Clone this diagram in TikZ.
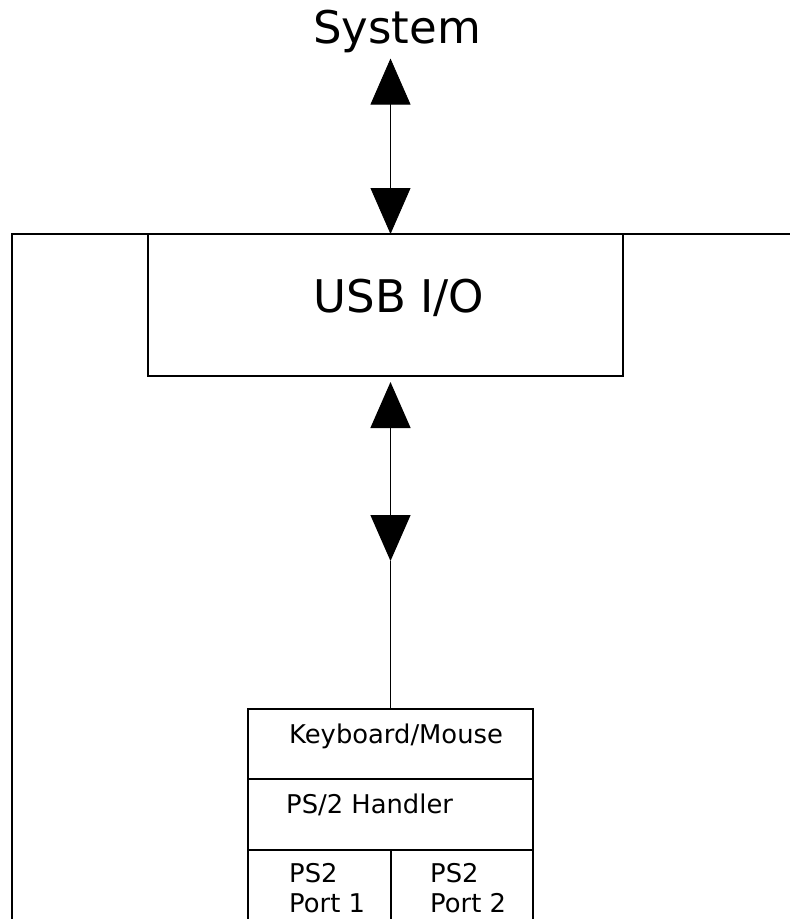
\documentclass[tikz,border=0pt]{standalone}
\usepackage{fontspec}
\setmainfont{DejaVu Sans}
\usetikzlibrary{arrows.meta,positioning}

\begin{document}
\begin{tikzpicture}[
    x=1pt,y=-1pt,
    frame/.style={draw,line width=1.8pt},
    cell/.style={draw,line width=1.8pt,inner sep=0pt,outer sep=0pt,anchor=north west},
    biarrow/.style={
        {Triangle[width=40pt,length=46pt]}-{Triangle[width=40pt,length=46pt]},
        line width=#1
    },
    biarrow/.default=1pt,
    big/.style={font=\fontsize{45}{52}\selectfont,inner sep=0pt,anchor=base},
    small/.style={font=\fontsize{25.8}{30}\selectfont,inner sep=0pt,align=left,anchor=base west},
    node distance=0pt
]
  \useasboundingbox (0,0) rectangle (790,919);

  % outer board, cut by the page edge
  \draw[frame] (800,234) -| (12,930);

  \node[big] (sys) at (397,43) {System};

  \node[cell,minimum width=475,minimum height=142] (usb) at (148,234) {};
  \node[big] (usblbl) at (399,312) {USB I/O};

  \node[cell,minimum width=285,minimum height=70] (kbm) at (248,709) {};
  \node[cell,minimum width=285,minimum height=71,below=of kbm.south west,anchor=north west] (ps2h) {};
  \node[cell,minimum width=143,minimum height=100,below=of ps2h.south west,anchor=north west] (port1) {};
  \node[cell,minimum width=142,minimum height=100,right=of port1.north east,anchor=north west] (port2) {};

  \node[small] (kbmlbl) at (289,743) {Keyboard/Mouse};
  \node[small] (ps2hlbl) at (286,813) {PS/2 Handler};
  \node[small] (port1lbl) at (289,912) {PS2\\Port 1};
  \node[small] (port2lbl) at (430,912) {PS2\\Port 2};

  \coordinate (mid) at (390.5,561);

  \draw[biarrow=0.8pt,shorten <=6pt] (sys.south -| kbm.north) -- (usb.north -| kbm.north);
  \draw[biarrow=1.3pt,shorten <=6pt] (usb.south -| kbm.north) -- (mid);
  \draw[line width=1.3pt] (mid) -- (kbm.north);
\end{tikzpicture}
\end{document}
